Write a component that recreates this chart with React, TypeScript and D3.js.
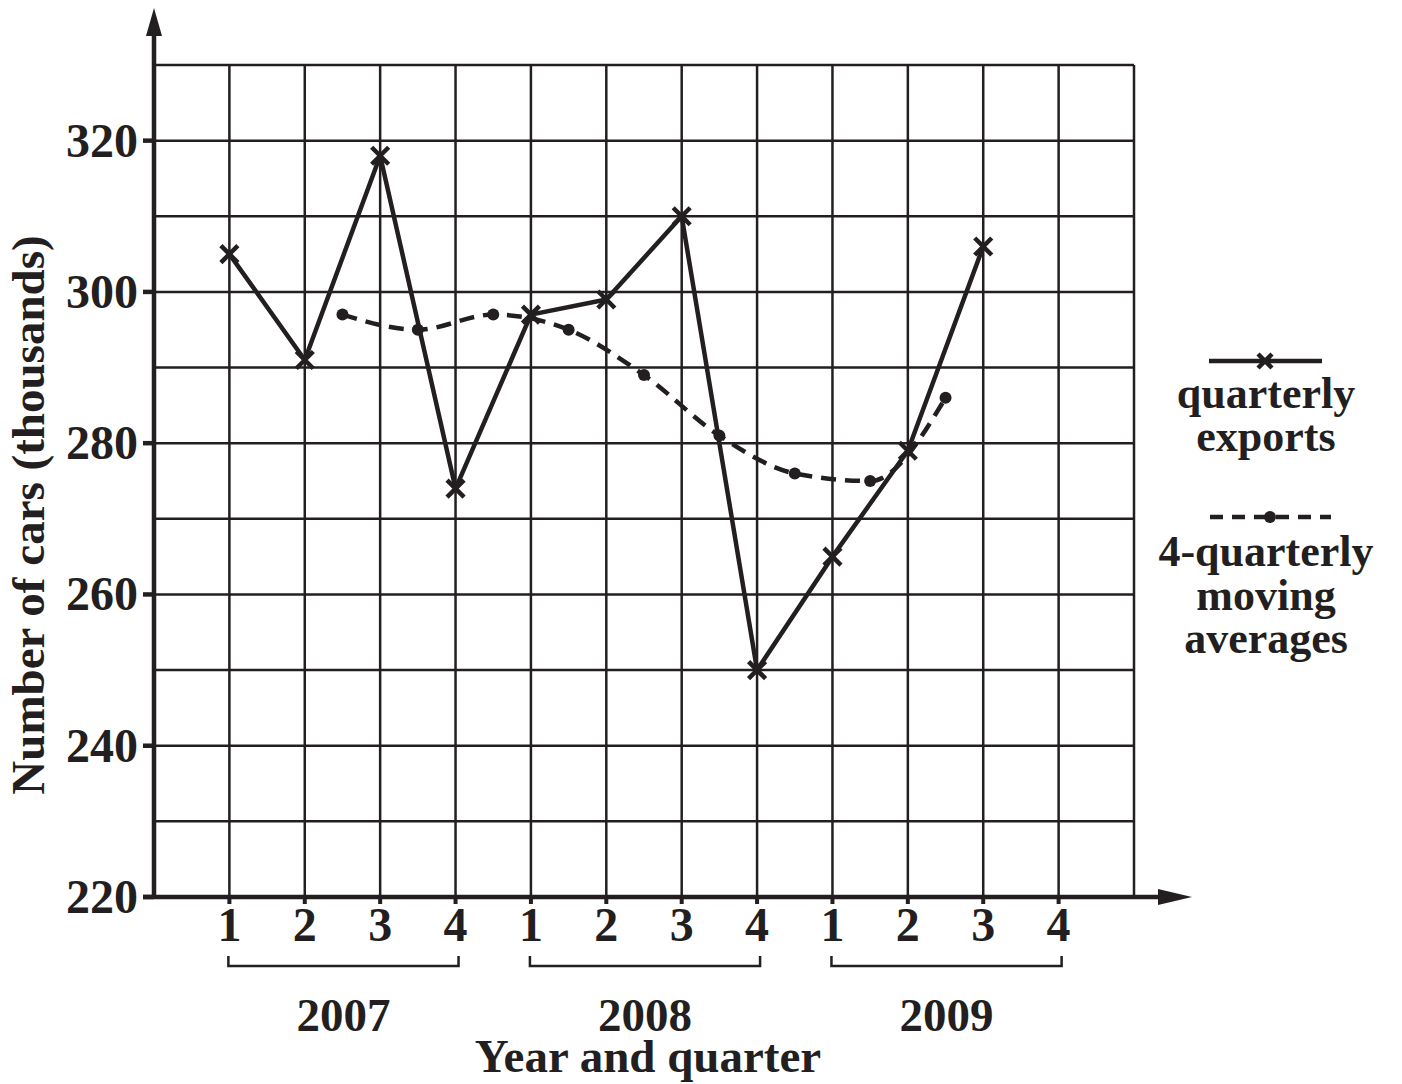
import React, { useEffect, useRef } from "react";
import * as d3 from "d3";

const quarterLabels = ["1", "2", "3", "4", "1", "2", "3", "4", "1", "2", "3", "4"];
const years = ["2007", "2008", "2009"];
const quarterlyExports = [305, 291, 318, 274, 297, 299, 310, 250, 265, 279, 306];
const movingAvgPositions = [2.5, 3.5, 4.5, 5.5, 6.5, 7.5, 8.5, 9.5, 10.5];
const movingAverages = [297, 295, 297, 295, 289, 281, 276, 275, 286];
const yTicks = [220, 240, 260, 280, 300, 320];

const INK = "#231f20";
const FONT = "'Liberation Serif', 'Times New Roman', Times, serif";

export default function App() {
  const ref = useRef<SVGSVGElement | null>(null);

  useEffect(() => {
    const svg = d3.select(ref.current);
    svg.selectAll("*").remove();

    const x = d3.scaleLinear().domain([0, 13]).range([154, 1134]);
    const y = d3.scaleLinear().domain([220, 330]).range([897, 65]);

    const g = svg.append("g");

    // grid
    const grid = g.append("g").attr("stroke", INK).attr("stroke-width", 2.5);
    d3.range(1, 14).forEach((i) => {
      grid.append("line").attr("x1", x(i)).attr("x2", x(i)).attr("y1", y(220)).attr("y2", y(330));
    });
    d3.range(230, 331, 10).forEach((v) => {
      grid.append("line").attr("x1", x(0)).attr("x2", x(13)).attr("y1", y(v)).attr("y2", y(v));
    });

    // axes
    g.append("line").attr("x1", x(0)).attr("x2", x(0)).attr("y1", y(220) + 2).attr("y2", 30)
      .attr("stroke", INK).attr("stroke-width", 4.5);
    g.append("path").attr("d", `M${x(0)},8 L${x(0) - 8},36 L${x(0) + 8},36 Z`).attr("fill", INK);
    g.append("line").attr("x1", x(0) - 11).attr("x2", 1165).attr("y1", y(220)).attr("y2", y(220))
      .attr("stroke", INK).attr("stroke-width", 4.5);
    g.append("path").attr("d", `M1192,${y(220)} L1158,${y(220) - 8} L1158,${y(220) + 8} Z`).attr("fill", INK);

    // y ticks
    yTicks.forEach((v) => {
      g.append("line").attr("x1", x(0) - 11).attr("x2", x(0)).attr("y1", y(v)).attr("y2", y(v))
        .attr("stroke", INK).attr("stroke-width", 4.5);
      g.append("text").attr("x", 138).attr("y", y(v) + 16).attr("text-anchor", "end")
        .attr("font-family", FONT).attr("font-weight", "bold").attr("font-size", 48).attr("fill", INK)
        .text(String(v));
    });

    // x ticks and labels
    quarterLabels.forEach((lab, i) => {
      const xi = x(i + 1);
      g.append("line").attr("x1", xi).attr("x2", xi).attr("y1", y(220)).attr("y2", y(220) + 7)
        .attr("stroke", INK).attr("stroke-width", 4);
      g.append("text").attr("x", xi).attr("y", 941).attr("text-anchor", "middle")
        .attr("font-family", FONT).attr("font-weight", "bold").attr("font-size", 48).attr("fill", INK)
        .text(lab);
    });

    // year brackets
    years.forEach((yr, k) => {
      const x1 = x(k * 4 + 1) - 1;
      const x2 = x(k * 4 + 4) + 3;
      g.append("path").attr("d", `M${x1},956 L${x1},966 L${x2},966 L${x2},956`)
        .attr("fill", "none").attr("stroke", INK).attr("stroke-width", 2.5);
      g.append("text").attr("x", (x1 + x2) / 2).attr("y", 1031).attr("text-anchor", "middle")
        .attr("font-family", FONT).attr("font-weight", "bold").attr("font-size", 47).attr("fill", INK)
        .text(yr);
    });

    g.append("text").attr("x", 648).attr("y", 1072).attr("text-anchor", "middle")
      .attr("font-family", FONT).attr("font-weight", "bold").attr("font-size", 47).attr("fill", INK)
      .text("Year and quarter");

    g.append("text").attr("transform", `translate(44,515) rotate(-90)`).attr("text-anchor", "middle")
      .attr("font-family", FONT).attr("font-weight", "bold").attr("font-size", 47).attr("fill", INK)
      .text("Number of cars (thousands)");

    // moving average line
    const maData = movingAvgPositions.map((p, i) => [p, movingAverages[i]] as [number, number]);
    const maLine = d3.line<[number, number]>().x((d) => x(d[0])).y((d) => y(d[1])).curve(d3.curveMonotoneX);
    g.append("path").attr("d", maLine(maData)).attr("fill", "none").attr("stroke", INK)
      .attr("stroke-width", 4.5).attr("stroke-dasharray", "15 9");
    g.selectAll(".madot").data(maData).enter().append("circle")
      .attr("cx", (d) => x(d[0])).attr("cy", (d) => y(d[1])).attr("r", 6).attr("fill", INK);

    // quarterly line
    const qData = quarterlyExports.map((v, i) => [i + 1, v] as [number, number]);
    const qLine = d3.line<[number, number]>().x((d) => x(d[0])).y((d) => y(d[1]));
    g.append("path").attr("d", qLine(qData)).attr("fill", "none").attr("stroke", INK)
      .attr("stroke-width", 4.5).attr("stroke-linejoin", "round");
    const s = 8.5;
    qData.forEach((d) => {
      const cx = x(d[0]);
      const cy = y(d[1]);
      g.append("path").attr("d", `M${cx - s},${cy - s} L${cx + s},${cy + s} M${cx - s},${cy + s} L${cx + s},${cy - s}`)
        .attr("stroke", INK).attr("stroke-width", 4.5);
    });

    // legend
    const lg = g.append("g");
    lg.append("line").attr("x1", 1209).attr("x2", 1322).attr("y1", 361).attr("y2", 361)
      .attr("stroke", INK).attr("stroke-width", 4.5);
    lg.append("path").attr("d", `M${1265 - 7},${361 - 7} L${1265 + 7},${361 + 7} M${1265 - 7},${361 + 7} L${1265 + 7},${361 - 7}`)
      .attr("stroke", INK).attr("stroke-width", 4.5);
    [["quarterly", 408], ["exports", 451]].forEach(([t, yy]) => {
      lg.append("text").attr("x", 1266).attr("y", yy as number).attr("text-anchor", "middle")
        .attr("font-family", FONT).attr("font-weight", "bold").attr("font-size", 44).attr("fill", INK)
        .text(t as string);
    });
    lg.append("line").attr("x1", 1210).attr("x2", 1331).attr("y1", 517).attr("y2", 517)
      .attr("stroke", INK).attr("stroke-width", 4.5).attr("stroke-dasharray", "13 9");
    lg.append("circle").attr("cx", 1270).attr("cy", 517).attr("r", 6).attr("fill", INK);
    [["4-quarterly", 566], ["moving", 610], ["averages", 653]].forEach(([t, yy]) => {
      lg.append("text").attr("x", 1266).attr("y", yy as number).attr("text-anchor", "middle")
        .attr("font-family", FONT).attr("font-weight", "bold").attr("font-size", 44).attr("fill", INK)
        .text(t as string);
    });
  }, []);

  return (
    <svg
      ref={ref}
      width={1402}
      height={1084}
      style={{ position: "absolute", left: 0, top: 0, background: "#fff", display: "block" }}
    />
  );
}
